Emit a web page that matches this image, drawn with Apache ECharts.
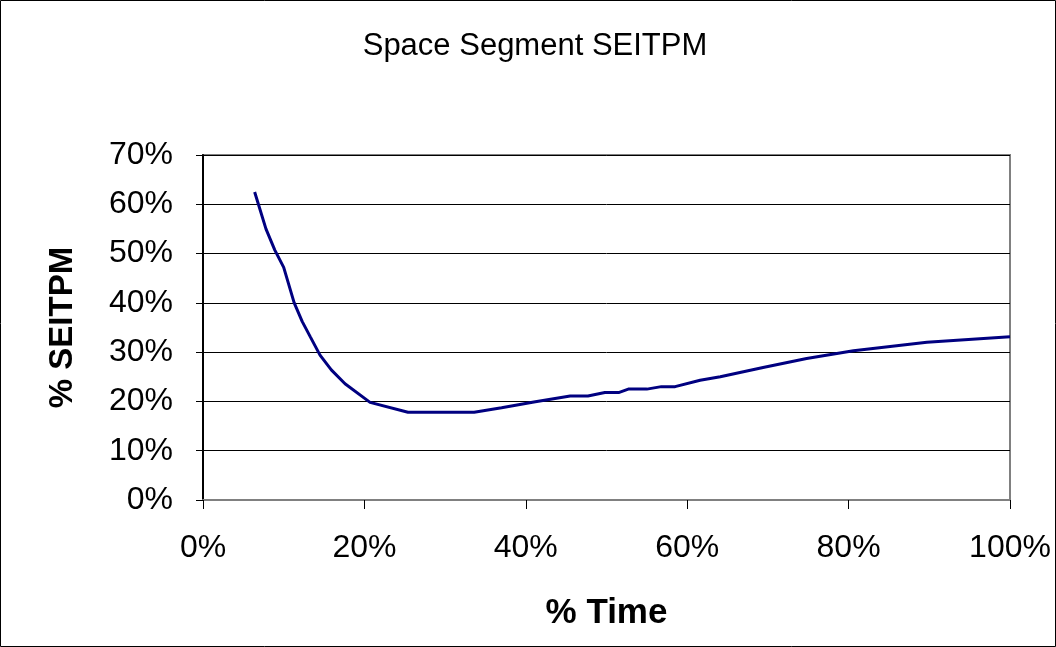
<!DOCTYPE html>
<html>
<head>
<meta charset="utf-8">
<script src="https://cdn.jsdelivr.net/npm/echarts@6/dist/echarts.min.js"></script>
<style>
html,body{margin:0;padding:0;background:#fff;}
#chart{width:1056px;height:647px;}
</style>
</head>
<body>
<div id="chart"></div>
<script>
// % Time (x) values
var timePct = [6.4, 7.8, 8.9, 10.0, 11.3, 12.3, 13.3, 14.5, 15.9, 17.6, 20.7, 25.4, 33.6, 37.0, 41.0, 45.5, 47.7, 49.8, 51.5, 52.7, 55.0, 56.8, 58.5, 61.6, 64.1, 69.4, 74.8, 80.6, 89.7, 100.0];
// % SEITPM (y) values
var seitpmPct = [62.5, 55.0, 50.7, 47.2, 40.0, 36.2, 33.1, 29.4, 26.4, 23.6, 19.8, 17.8, 17.8, 18.7, 19.9, 21.1, 21.1, 21.8, 21.8, 22.5, 22.5, 23.0, 23.0, 24.3, 25.0, 26.9, 28.7, 30.3, 32.0, 33.1];

var titleText = 'Space Segment SEITPM';
var xName = '% Time';
var yName = '% SEITPM';

var points = timePct.map(function (t, i) { return [t, seitpmPct[i]]; });

var chart = echarts.init(document.getElementById('chart'));
var font = 'Liberation Sans, Arial, sans-serif';
chart.setOption({
  animation: false,
  backgroundColor: '#fff',
  title: {
    text: titleText,
    left: 530,
    textAlign: 'center',
    top: 26,
    textStyle: { fontFamily: font, fontSize: 31, fontWeight: 'normal', color: '#000' }
  },
  grid: {
    left: 203, right: 46, top: 155, bottom: 147,
    show: true, borderColor: '#808080', borderWidth: 2, backgroundColor: '#fff'
  },
  xAxis: {
    type: 'value', min: 0, max: 100, interval: 20,
    name: xName, nameLocation: 'middle', nameGap: 96,
    nameTextStyle: { fontFamily: font, fontSize: 35, fontWeight: 'bold', color: '#000' },
    axisLine: { show: true, lineStyle: { color: '#808080', width: 2 } },
    axisTick: { show: true, inside: false, length: 9, lineStyle: { color: '#000', width: 1 } },
    axisLabel: { margin: 32, fontFamily: font, fontSize: 32, color: '#000', formatter: '{value}%' },
    splitLine: { show: false }
  },
  yAxis: {
    type: 'value', min: 0, max: 70, interval: 10,
    name: yName, nameLocation: 'middle', nameGap: 124, nameRotate: 90,
    nameTextStyle: { fontFamily: font, fontSize: 33, fontWeight: 'bold', color: '#000' },
    axisLine: { show: true, lineStyle: { color: '#000', width: 2 } },
    axisTick: { show: true, inside: false, length: 7, lineStyle: { color: '#000', width: 1 } },
    axisLabel: { margin: 30, fontFamily: font, fontSize: 32, color: '#000', formatter: '{value}%' },
    splitLine: { show: true, lineStyle: { color: '#000', width: 1 } }
  },
  graphic: [{
    type: 'rect', silent: true, z: 100,
    shape: { x: 0.5, y: 0.5, width: 1055, height: 646 },
    style: { fill: 'none', stroke: '#000', lineWidth: 1 }
  }],
  series: [{
    type: 'line',
    data: points,
    showSymbol: false,
    smooth: false,
    lineStyle: { color: '#000080', width: 3 },
    itemStyle: { color: '#000080' }
  }]
});
</script>
</body>
</html>
